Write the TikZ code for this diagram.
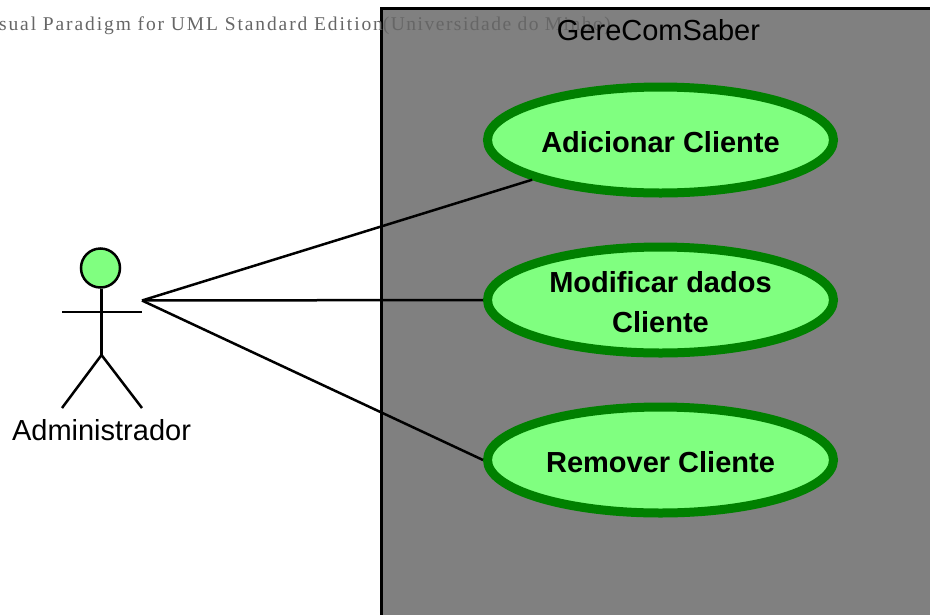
\documentclass[tikz,border=0pt]{standalone}
\usepackage{fontspec}
\setmainfont{Liberation Sans}
\newfontfamily\markfont[LetterSpace=7.6]{Liberation Serif}
\usetikzlibrary{shapes.geometric}
\definecolor{usefill}{HTML}{80FF80}
\definecolor{useline}{HTML}{008000}
\definecolor{sysfill}{HTML}{808080}
\definecolor{marktext}{HTML}{666666}
\tikzset{
  usecase/.style = {ellipse, draw=useline, fill=usefill, line width=9pt, minimum width=346pt, minimum height=106pt, inner sep=0pt, align=center, font=\fontsize{29}{40}\selectfont\bfseries},
  label/.style = {font=\fontsize{29}{34}\selectfont, anchor=base},
  stick/.style = {line width=2.5pt}
}
\newcommand{\lowered}{\rule{0pt}{25pt}}
\begin{document}
\begin{tikzpicture}[x=1pt,y=-1pt]

\clip (0,0) rectangle (930,614);
\draw [line width=3pt, fill=sysfill] (381.5,8) rectangle (945,630);

\node [font=\markfont\fontsize{19.5}{22}\selectfont, text=marktext, anchor=base east, inner sep=0pt] (mark) at (611,30) {{\addfontfeature{LetterSpace=9.7}Visual Paradigm for UML Standard Edition}(Universidade do Minho)};
\node [label] (system) at (658.5,40) {GereComSaber};

\node [circle, draw, stick, fill=usefill, minimum size=39pt, inner sep=0pt] (head) at (100.5,268) {};
\coordinate (hip) at (101.5,355);
\coordinate (armL) at (62,312);
\coordinate (armR) at (142,312);
\coordinate (footL) at (62,408);
\coordinate (footR) at (142,408);
\coordinate (hook) at (142,300.5);
\draw [stick] (head.south -| hip) -- (hip);
\draw [stick] (armL) -- (armR);
\draw [stick] (footL) -- (hip) -- (footR);
\node [label] (actor) at (101.5,440) {Administrador};

\node [usecase] (add) at (660.5,140) {\lowered Adicionar Cliente};
\node [usecase] (edit) at (660.5,300) {\rule{0pt}{26pt}Modificar dados\\Cliente};
\node [usecase] (remove) at (660.5,460) {\lowered Remover Cliente};

\draw [stick] (hook) -- (add);
\foreach \a in {edit,remove} {\draw [stick] (hook) -- (\a.west);}

\end{tikzpicture}
\end{document}
